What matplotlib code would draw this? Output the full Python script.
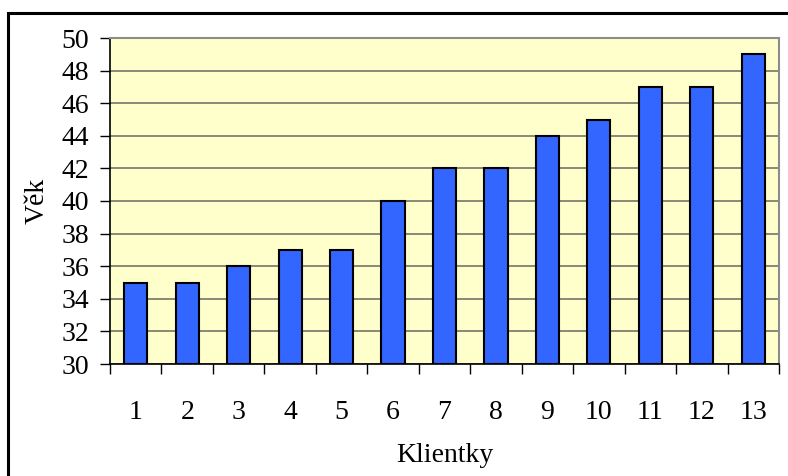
import matplotlib.pyplot as plt
from matplotlib.patches import Rectangle
from matplotlib.ticker import MultipleLocator, FixedLocator

# data
klientky = ['1', '2', '3', '4', '5', '6', '7', '8', '9', '10', '11', '12', '13']
vek = [35, 35, 36, 37, 37, 40, 42, 42, 44, 45, 47, 47, 49]

plt.rcParams['font.family'] = ['Liberation Serif', 'DejaVu Serif']

fig = plt.figure(figsize=(7.88, 4.76), dpi=100)
W, H = 788, 476

# outer chart frame (runs off the right/bottom edge like the original)
fig.patches.append(Rectangle((8 / W, -0.2), 1.2, 1 - 13 / H + 0.2,
                             transform=fig.transFigure, fill=False,
                             edgecolor='black', linewidth=2.2))

ax = fig.add_axes([110 / W, 1 - 364 / H, (779 - 110) / W, (364 - 38) / H])
ax.set_facecolor('#FFFFCC')

x = list(range(len(klientky)))
ax.bar(x, [v - 30 for v in vek], bottom=30, width=0.45, color='#3366FF',
       edgecolor='black', linewidth=1.5, zorder=3)

ax.set_xlim(-0.5, len(klientky) - 0.5)
ax.set_ylim(30, 50)
ax.yaxis.set_major_locator(MultipleLocator(2))
ax.yaxis.grid(True, color='#7f7f70', linewidth=1.3, zorder=0)
ax.set_axisbelow(True)

ax.set_xticks(x)
ax.set_xticklabels(klientky)
ax.xaxis.set_minor_locator(FixedLocator([i - 0.5 for i in range(len(klientky) + 1)]))
ax.tick_params(axis='x', which='major', length=0, pad=26, labelsize=20)
ax.tick_params(axis='x', which='minor', length=7, width=1, color='black', direction='out')
ax.tick_params(axis='y', length=7, width=1, pad=8, labelsize=20)

for s in ['top', 'right']:
    ax.spines[s].set_color('#8c8c8c')
    ax.spines[s].set_linewidth(1.5)
for s in ['left', 'bottom']:
    ax.spines[s].set_color('black')
    ax.spines[s].set_linewidth(1.2)

ax.set_xlabel('Klientky', fontsize=20)
ax.xaxis.set_label_coords(0.5, -(443 - 364) / (364 - 38), transform=ax.transAxes)
ax.set_ylabel('Věk', fontsize=20)
ax.yaxis.set_label_coords(-(110 - 50) / (779 - 110), 0.5, transform=ax.transAxes)

fig.savefig('out.png', dpi=100)
